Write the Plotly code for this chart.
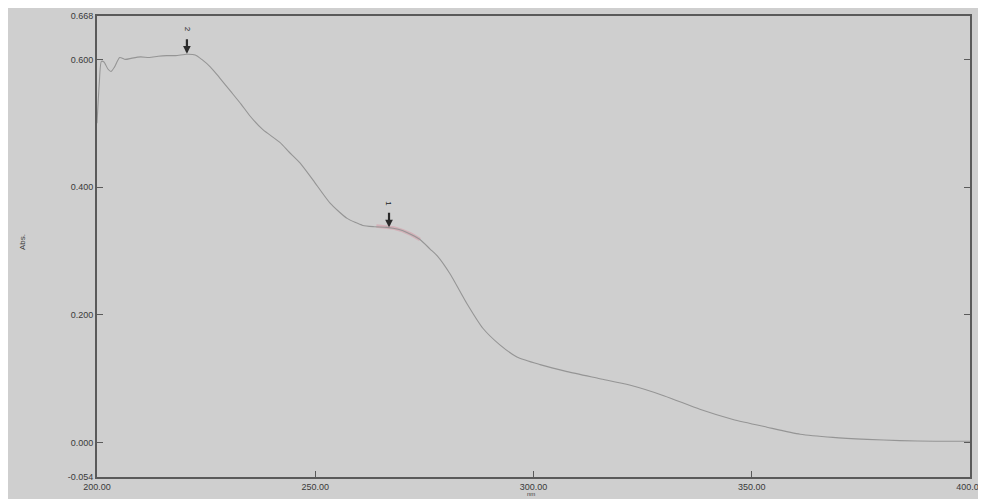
import plotly.graph_objects as go

# Spectrum data (wavelength nm, absorbance)
wavelength = [200, 200.5, 201, 201.6, 202.5, 203.2, 204, 205.2, 206.5, 208, 210, 212, 214,
              216, 218, 220.6, 222.5, 224, 226, 228, 230.5, 233, 235.1, 238, 241.9, 244,
              246.5, 249.5, 253.4, 257.3, 260.9, 263.5, 266.4, 269, 271, 274, 276.3, 278,
              280.9, 284.8, 288.4, 292.3, 296.2, 301.5, 307.7, 315.2, 322, 330, 338.1,
              345.7, 353.5, 361.1, 368.6, 376.4, 384, 392, 400]
absorbance = [0.500, 0.560, 0.597, 0.596, 0.585, 0.581, 0.588, 0.603, 0.600, 0.602, 0.604,
              0.603, 0.605, 0.606, 0.606, 0.608, 0.607, 0.600, 0.588, 0.572, 0.551, 0.530,
              0.511, 0.490, 0.470, 0.455, 0.438, 0.411, 0.375, 0.351, 0.340, 0.338, 0.337,
              0.334, 0.329, 0.318, 0.303, 0.292, 0.264, 0.217, 0.179, 0.153, 0.134, 0.122,
              0.111, 0.100, 0.090, 0.073, 0.052, 0.036, 0.024, 0.013, 0.008, 0.005, 0.003,
              0.002, 0.002]

# Highlighted (pink) segment
pink_wl = [264, 266, 268, 270, 272, 274]
pink_abs = [0.339, 0.338, 0.336, 0.332, 0.326, 0.318]

# Peak picks
peak_labels = ["2", "1"]
peak_wl = [220.6, 266.9]
peak_abs = [0.609, 0.337]

x_ticks = [200, 250, 300, 350, 400]
x_ticktext = ["200.00", "250.00", "300.00", "350.00", "400.00"]
y_ticks = [-0.054, 0.0, 0.2, 0.4, 0.6, 0.668]
y_ticktext = ["-0.054", "0.000", "0.200", "0.400", "0.600", "0.668"]

BG = "#cfcfcf"
FRAME = "#5a5a5a"
TXT = "#3a3a3a"

fig = go.Figure()
fig.add_trace(go.Scatter(x=pink_wl, y=pink_abs, mode="lines",
                         line=dict(color="rgba(215,140,155,0.45)", width=3.5),
                         hoverinfo="skip", showlegend=False))
fig.add_trace(go.Scatter(x=wavelength, y=absorbance, mode="lines",
                         line=dict(color="#959595", width=1.1, shape="spline", smoothing=0.6),
                         showlegend=False))

for lab, px, py in zip(peak_labels, peak_wl, peak_abs):
    fig.add_annotation(x=px, y=py, xref="x", yref="y", text="", showarrow=True,
                       arrowhead=2, arrowsize=0.7, arrowwidth=2.2, arrowcolor="#2a2a2a",
                       ax=0, ay=-16)
    fig.add_annotation(x=px, y=py, xref="x", yref="y", text=lab, showarrow=False,
                       textangle=90, yshift=24, font=dict(size=8, color="#222",
                       family="Liberation Sans"))

fig.add_annotation(text="Abs.", xref="paper", yref="paper", x=-0.092, y=0.51,
                   textangle=-90, showarrow=False, font=dict(size=8, color=TXT,
                   family="Liberation Sans"))
fig.add_annotation(text="nm", xref="paper", yref="paper", x=0.497, y=-0.0477,
                   yanchor="bottom", showarrow=False, font=dict(size=6, color=TXT,
                   family="Liberation Sans"))

fig.update_layout(
    width=978, height=491,
    margin=dict(l=89, r=16, t=8, b=22, autoexpand=False),
    paper_bgcolor=BG, plot_bgcolor=BG,
    font=dict(family="Liberation Sans", size=9, color=TXT),
    xaxis=dict(range=[200, 400], tickvals=x_ticks, ticktext=x_ticktext, automargin=False,
               showgrid=False, zeroline=False, showline=True, linecolor=FRAME, linewidth=2,
               mirror=True, ticks="inside", ticklen=6, tickcolor=FRAME, tickwidth=1,
               tickfont=dict(size=9, color=TXT)),
    yaxis=dict(range=[-0.054, 0.668], tickvals=y_ticks, ticktext=y_ticktext, automargin=False,
               showgrid=False, zeroline=False, showline=True, linecolor=FRAME, linewidth=2,
               mirror="ticks", ticks="inside", ticklen=6, tickcolor=FRAME, tickwidth=1,
               tickfont=dict(size=9, color=TXT)),
)

fig.write_html("out.html")
